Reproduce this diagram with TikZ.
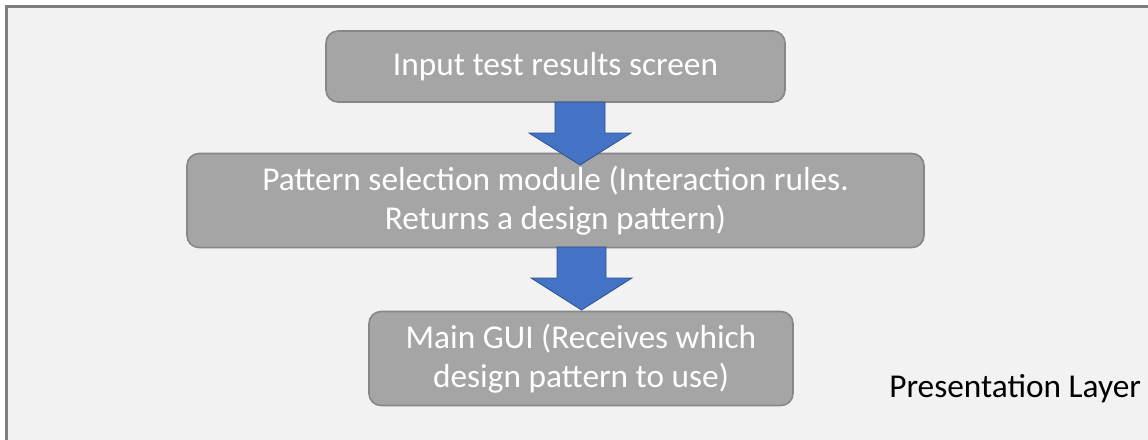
\documentclass[tikz,border=0pt]{standalone}
\usepackage{fontspec}
\setmainfont{Carlito}
\definecolor{bg}{HTML}{F2F2F2}
\definecolor{frame}{HTML}{7F7F7F}
\definecolor{boxfill}{HTML}{A5A5A5}
\definecolor{boxline}{HTML}{878787}
\definecolor{arrowfill}{HTML}{4472C4}
\definecolor{arrowline}{HTML}{2F528F}
\tikzset{
  stepbox/.style={draw=boxline, line width=1.2pt, fill=boxfill, rounded corners=9pt,
    text=white, align=center, font=\fontsize{25}{29}\selectfont, inner sep=0pt},
  bluearrow/.style={fill=arrowfill, draw=arrowline, line width=0.6pt, line join=miter},
}
\begin{document}
\begin{tikzpicture}[x=0.75pt,y=-0.75pt]
\useasboundingbox (0,0) rectangle (1148,439);
\begin{scope}
\clip (0,0) rectangle (1148,439);
\draw[frame, fill=bg, line width=1.6pt] (6.5,6.5) rectangle (1160,450);
\end{scope}
\node[stepbox, minimum width=459*0.75pt, minimum height=71*0.75pt] (a) at (555.5,66.5) {Input test results screen};
\node[stepbox, minimum width=737*0.75pt, minimum height=94*0.75pt] (b) at (555.5,200.5) {Pattern selection module (Interaction rules.\\Returns a design pattern)};
\node[stepbox, minimum width=424*0.75pt, minimum height=94*0.75pt] (c) at (581,358.5) {Main GUI (Receives which\\design pattern to use)};
\draw[bluearrow] (555,102) -- (605,102) -- (605,133) -- (631,133) -- (580,165) -- (529,133) -- (555,133) -- cycle;
\draw[bluearrow] (557,247) -- (606,247) -- (606,278) -- (632,278) -- (581.5,310) -- (531,278) -- (557,278) -- cycle;
\node[anchor=base west, inner sep=0pt, font=\fontsize{25}{29}\selectfont, text=black] (lbl) at (889,397) {Presentation Layer};
\end{tikzpicture}
\end{document}
